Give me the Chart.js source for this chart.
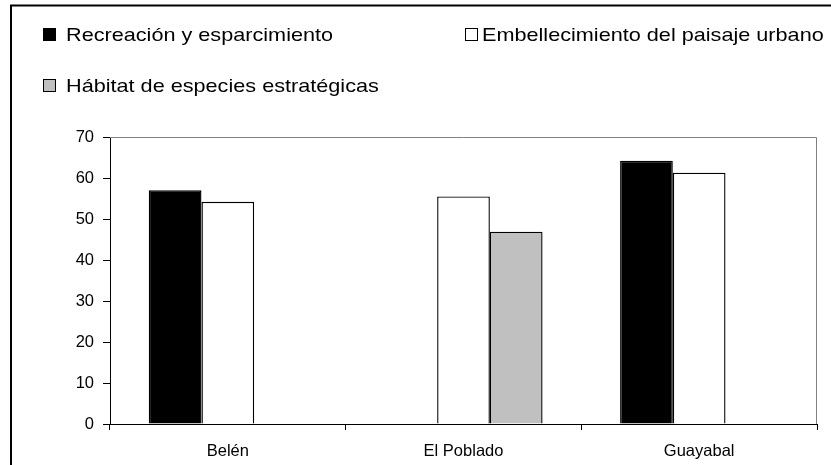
<!DOCTYPE html>
<html>
<head>
<meta charset="utf-8">
<script src="https://cdn.jsdelivr.net/npm/chart.js@4"></script>
<style>
  html, body { margin: 0; padding: 0; background: #fff; }
  #wrap { width: 831px; height: 465px; position: relative; }
</style>
</head>
<body>
<div id="wrap"><canvas id="chart" width="831" height="465"></canvas></div>
<script>
// Data
var categories = ['Belén', 'El Poblado', 'Guayabal'];
var seriesNames = ['Recreación y esparcimiento', 'Embellecimiento del paisaje urbano', 'Hábitat de especies estratégicas'];
var recreacion = [57, null, 64.2];
var embellecimiento = [54.2, 55.5, 61.3];
var habitat = [null, 46.9, null];
var yTicks = [0, 10, 20, 30, 40, 50, 60, 70];

var fillColors = ['#000000', '#ffffff', '#c0c0c0'];
var FONT = '"Liberation Sans", Arial, sans-serif';

// Legend laid out like the original (two columns, second row below)
// x/y = left edge of the swatch and text baseline
var legendSpots = [
    { x: 43, y: 41, tx: 66 },
    { x: 465, y: 41, tx: 482 },
    { x: 43, y: 92, tx: 66 }
];
// the source image is a little wider than tall, so legend text is stretched
var textStretch = 1.17;

var framePlugin = {
    id: 'frame',
    beforeDraw: function(chart) {
        var c = chart.ctx;
        c.save();
        c.strokeStyle = '#000';
        c.lineWidth = 2;
        c.beginPath();
        c.moveTo(11, 465);
        c.lineTo(11, 5.5);
        c.lineTo(831, 5.5);
        c.stroke();
        c.restore();
    },
    afterDatasetsDraw: function(chart) {
        var a = chart.chartArea;
        var c = chart.ctx;
        c.save();
        c.strokeStyle = '#808080';
        c.lineWidth = 1;
        c.beginPath();
        c.moveTo(a.left, a.top + 0.5);
        c.lineTo(a.right - 0.5, a.top + 0.5);
        c.lineTo(a.right - 0.5, a.bottom);
        c.stroke();
        c.restore();
    },
    afterDraw: function(chart) {
        var c = chart.ctx;
        chart.data.datasets.forEach(function(ds, i) {
            var p = legendSpots[i];
            c.save();
            c.fillStyle = ds.backgroundColor;
            c.fillRect(p.x + 0.5, p.y - 12.5, 12, 12);
            c.strokeStyle = '#000';
            c.lineWidth = 1;
            c.strokeRect(p.x + 0.5, p.y - 12.5, 12, 12);
            c.translate(p.tx, p.y);
            c.scale(textStretch, 1);
            c.font = '18.5px ' + FONT;
            c.textBaseline = 'alphabetic';
            c.fillStyle = '#000';
            c.fillText(ds.label, 0, 0);
            c.restore();
        });
    }
};

new Chart(document.getElementById('chart'), {
    type: 'bar',
    data: {
        labels: categories,
        datasets: [
            { label: seriesNames[0], data: recreacion, backgroundColor: fillColors[0], borderColor: '#000', borderWidth: 1.4 },
            { label: seriesNames[1], data: embellecimiento, backgroundColor: fillColors[1], borderColor: '#000', borderWidth: 1.4 },
            { label: seriesNames[2], data: habitat, backgroundColor: fillColors[2], borderColor: '#000', borderWidth: 1.4 }
        ]
    },
    options: {
        responsive: false,
        animation: false,
        devicePixelRatio: 1,
        layout: { padding: { top: 137, right: 14, left: 0, bottom: 0 } },
        datasets: { bar: { categoryPercentage: 0.671, barPercentage: 1.0 } },
        plugins: { legend: { display: false }, tooltip: { enabled: false } },
        scales: {
            x: {
                grid: { offset: true, drawOnChartArea: false, tickLength: 6, color: '#000' },
                border: { color: '#000', width: 1 },
                ticks: { color: '#000', font: { family: FONT, size: 16.5 }, padding: 12 },
                afterFit: function(scale) { scale.height = 41; }
            },
            y: {
                min: 0,
                max: 70,
                afterBuildTicks: function(scale) {
                    scale.ticks = yTicks.map(function(v) { return { value: v }; });
                },
                grid: { drawOnChartArea: false, tickLength: 7, color: '#000' },
                border: { color: '#000', width: 1 },
                ticks: { color: '#000', font: { family: FONT, size: 16.5 }, padding: 9 },
                afterFit: function(scale) { scale.width = 110; }
            }
        }
    },
    plugins: [framePlugin]
});
</script>
</body>
</html>
